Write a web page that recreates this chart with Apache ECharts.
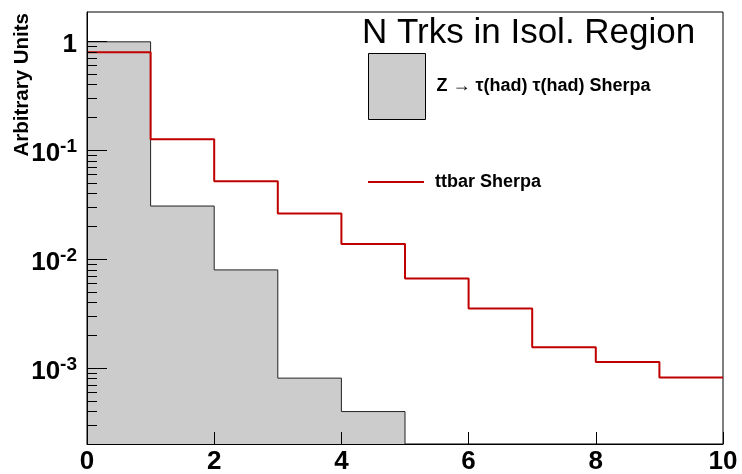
<!DOCTYPE html>
<html><head><meta charset="utf-8">
<script src="https://cdn.jsdelivr.net/npm/echarts@6/dist/echarts.min.js"></script>
<style>html,body{margin:0;padding:0;background:#fff}#c{width:742px;height:474px}</style>
</head><body><div id="c"></div>
<script>
// ---- data ----
const binEdges = [0, 1, 2, 3, 4, 5, 6, 7, 8, 9, 10];
const zValues  = [0.985, 0.0306, 0.00793, 0.000805, 0.000397, 0, 0, 0, 0, 0];
const ttValues = [0.788, 0.1254, 0.0516, 0.0262, 0.01373, 0.00662, 0.0035, 0.00155, 0.001135, 0.000815];
const xTickValues = [0, 2, 4, 6, 8, 10];
const yMajorTicks = [1e-3, 1e-2, 1e-1, 1];
const yMinorTicks = [3e-4, 4e-4, 5e-4, 6e-4, 7e-4, 8e-4, 9e-4,
                     2e-3, 3e-3, 4e-3, 5e-3, 6e-3, 7e-3, 8e-3, 9e-3,
                     2e-2, 3e-2, 4e-2, 5e-2, 6e-2, 7e-2, 8e-2, 9e-2,
                     2e-1, 3e-1, 4e-1, 5e-1, 6e-1, 7e-1, 8e-1, 9e-1];
const seriesNames = ['Z \u2192 \u03c4(had) \u03c4(had) Sherpa', 'ttbar Sherpa'];
const titleText = 'N Trks in Isol. Region';
const yTitle = 'Arbitrary Units';
const Y_MIN = 2.0e-4, Y_MAX = 1.85;

// ---- build step data from bins ----
function stepData(vals) {
  const out = [];
  let last = 0;
  for (let i = 0; i < vals.length; i++) {
    if (vals[i] > 0) { out.push([binEdges[i], vals[i]]); last = i; }
  }
  out.push([binEdges[last + 1], vals[last]]);
  if (last + 1 < binEdges.length - 1) out.push([binEdges[last + 1], Y_MIN]);
  return out;
}

const FONT = 'Liberation Sans, Arial, Helvetica, sans-serif';
const chart = echarts.init(document.getElementById('c'), null, {renderer: 'canvas'});

function tickSeries(values, len) {
  return {
    type: 'custom', z: 20, silent: true, clip: false,
    data: values.map(v => [0, v]),
    encode: {x: 0, y: 1},
    renderItem: function (params, api) {
      const p = api.coord([api.value(0), api.value(1)]);
      const y = Math.round(p[1]) + 0.5;
      return {type: 'line', shape: {x1: p[0], y1: y, x2: p[0] + len, y2: y},
              style: {stroke: '#000', lineWidth: 1}};
    }
  };
}

const legendText = {fontFamily: FONT, fontSize: 18, fontWeight: 'bold', color: '#000', padding: [0, 0, 0, 6]};

chart.setOption({
  animation: false,
  backgroundColor: '#fff',
  title: {
    text: titleText, left: 362, top: 16, padding: 0,
    textStyle: {fontFamily: FONT, fontSize: 35, fontWeight: 'normal', color: '#000'}
  },
  grid: {left: 87, right: 19, top: 12, bottom: 30, show: true, borderColor: '#000', borderWidth: 1,
         backgroundColor: 'transparent', containLabel: false, outerBoundsMode: 'none'},
  legend: [
    {
      data: [{name: seriesNames[0], icon: 'rect', itemStyle: {color: '#cccccc', borderColor: '#000', borderWidth: 1}}],
      left: 368, top: 53, padding: 0, itemWidth: 57, itemHeight: 66, orient: 'vertical', selectedMode: false,
      textStyle: legendText
    },
    {
      data: [{name: seriesNames[1], icon: 'rect', itemStyle: {color: '#c00000', borderWidth: 0}}],
      left: 368, top: 173, padding: 0, itemWidth: 56, itemHeight: 2, orient: 'vertical', selectedMode: false,
      textStyle: legendText
    }
  ],
  xAxis: {
    type: 'value', min: 0, max: 10, interval: 2, z: 10,
    axisLine: {show: true, lineStyle: {color: '#000', width: 1}},
    axisTick: {show: true, inside: true, length: 12, lineStyle: {color: '#000', width: 1}},
    axisLabel: {fontFamily: FONT, fontSize: 26, fontWeight: 'bold', color: '#000', margin: 5,
                formatter: v => (xTickValues.indexOf(v) >= 0 ? String(v) : '')},
    splitLine: {show: false}
  },
  yAxis: {
    type: 'log', logBase: 10, min: Y_MIN, max: Y_MAX, z: 10,
    axisLine: {show: true, lineStyle: {color: '#000', width: 1}},
    axisTick: {show: false},
    splitLine: {show: false},
    minorTick: {show: false},
    axisLabel: {
      margin: 10, color: '#000',
      formatter: function (v) {
        const l = Math.log10(v), e = Math.round(l);
        if (Math.abs(l - e) > 1e-6) return '';
        if (e === 0) return '{b|1}';
        return '{b|10}{s|' + e + '}';
      },
      rich: {
        b: {fontFamily: FONT, fontSize: 26, fontWeight: 'bold', color: '#000', padding: [8, 0, 0, 0]},
        s: {fontFamily: FONT, fontSize: 19, fontWeight: 'bold', color: '#000', padding: [0, 0, 6, 0]}
      }
    }
  },
  graphic: [{
    type: 'text', x: 12, y: 13, rotation: Math.PI / 2, z: 100,
    style: {text: yTitle, fontFamily: FONT, fontSize: 20.5, fontWeight: 'bold', fill: '#000',
            align: 'right', verticalAlign: 'top', textAlign: 'right', textVerticalAlign: 'top'}
  }],
  series: [
    {
      name: seriesNames[0], type: 'line', step: 'end', symbol: 'none', z: 2,
      data: stepData(zValues),
      itemStyle: {color: '#cccccc'},
      lineStyle: {color: '#222', width: 1},
      areaStyle: {color: '#cccccc', opacity: 1, origin: 'start'}
    },
    {
      name: seriesNames[1], type: 'line', step: 'end', symbol: 'none', z: 3,
      data: stepData(ttValues),
      itemStyle: {color: '#c00000'},
      lineStyle: {color: '#c00000', width: 2}
    },
    tickSeries(yMajorTicks, 20),
    tickSeries(yMinorTicks, 10)
  ]
});
</script></body></html>
